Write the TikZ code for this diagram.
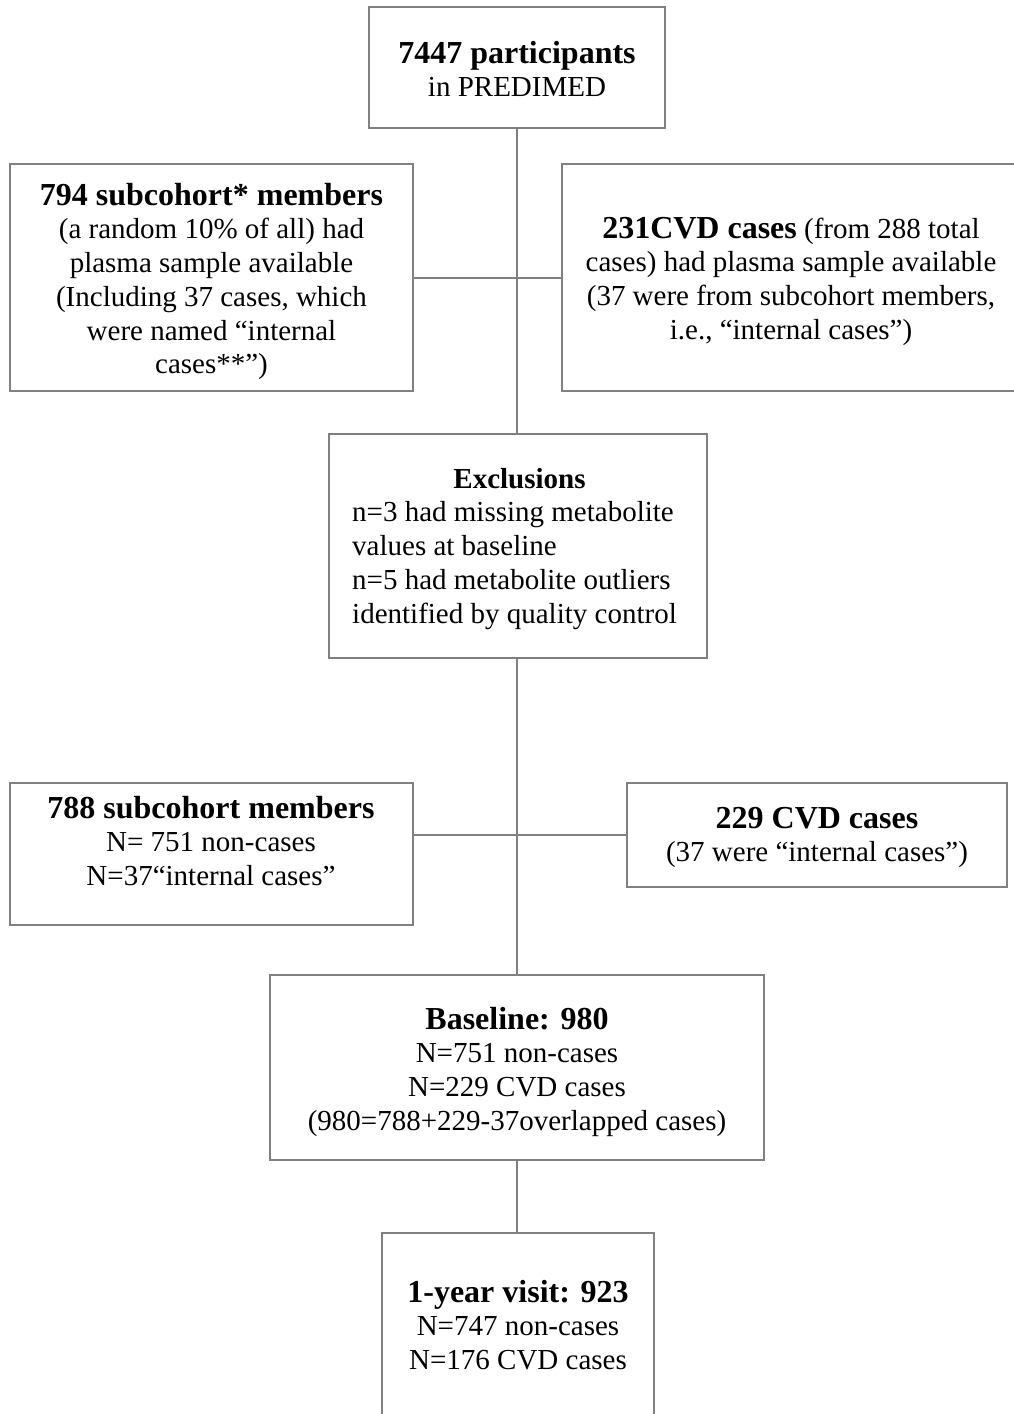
\documentclass[tikz,border=0pt]{standalone}
\usepackage{fontspec}
\setmainfont{Liberation Serif}
\definecolor{bd}{RGB}{128,128,128}
\newcommand\bigttl[1]{{\fontsize{32}{33.75}\selectfont\bfseries #1}}
\begin{document}
\begin{tikzpicture}[x=1pt,y=-1pt,
  box/.style={draw=bd, line width=2.2pt, rectangle, inner sep=0pt},
  txt/.style={inner sep=0pt, anchor=base, font=\fontsize{29}{33.75}\selectfont},
  conn/.style={draw=bd, line width=2pt}]
\useasboundingbox (0,0) rectangle (1013,1414);
% boxes
\node[box, minimum width=296pt, minimum height=121pt] (top)  at (517,67.5) {};
\node[box, minimum width=403pt, minimum height=227pt] (sub)  at (211.5,277.5) {};
\node[box, minimum width=460pt, minimum height=227pt] (cvd)  at (792,277.5) {};
\node[box, minimum width=378pt, minimum height=224pt] (excl) at (518,546) {};
\node[box, minimum width=403pt, minimum height=142pt] (subb) at (211.5,854) {};
\node[box, minimum width=380pt, minimum height=104pt] (cvdb) at (817,835) {};
\node[box, minimum width=494pt, minimum height=185pt] (base) at (517,1067.5) {};
\node[box, minimum width=272pt, minimum height=192pt] (year) at (518,1329) {};
% texts
\node[txt] (topT) at (517,63) {\begin{tabular}[t]{@{}c@{}}\bigttl{7447 participants}\\ in PREDIMED\end{tabular}};
\node[txt] (subT) at (211.5,205) {\begin{tabular}[t]{@{}c@{}}\bigttl{794 subcohort* members}\\ (a random 10\% of all) had\\ plasma sample available\\ (Including 37 cases, which\\ were named “internal\\ cases**”)\end{tabular}};
\node[txt] (cvdT) at (791,238) {\begin{tabular}[t]{@{}c@{}}\bigttl{231CVD cases} (from 288 total\\ cases) had plasma sample available\\ (37 were from subcohort members,\\ i.e., “internal cases”)\end{tabular}};
\node[txt, anchor=base west] (exclT) at (352,488) {\begin{tabular}[t]{@{}l@{}}\multicolumn{1}{@{}c@{}}{\hspace{10pt}\textbf{Exclusions}}\\ n=3 had missing metabolite\\ values at baseline\\ n=5 had metabolite outliers\\ identified by quality control\end{tabular}};
\node[txt] (subbT) at (211,818) {\begin{tabular}[t]{@{}c@{}}\bigttl{788 subcohort members}\\ N= 751 non-cases\\ N=37“internal cases”\end{tabular}};
\node[txt] (cvdbT) at (817,828) {\begin{tabular}[t]{@{}c@{}}\bigttl{229 CVD cases}\\ (37 were “internal cases”)\end{tabular}};
\node[txt] (baseT) at (517,1029) {\begin{tabular}[t]{@{}c@{}}\bigttl{Baseline: 980}\\ N=751 non-cases\\ N=229 CVD cases\\ (980=788+229-37overlapped cases)\end{tabular}};
\node[txt] (yearT) at (518,1302) {\begin{tabular}[t]{@{}c@{}}\bigttl{1-year visit: 923}\\ N=747 non-cases\\ N=176 CVD cases\end{tabular}};
% connectors
\draw[conn] (top.south) -- (top.south |- excl.north);
\draw[conn] (sub.east) -- (cvd.west);
\draw[conn] (base.north |- excl.south) -- (base.north);
\draw[conn] (cvdb.west) -- (cvdb.west -| subb.east);
\draw[conn] (base.south) -- (base.south |- year.north);
\end{tikzpicture}
\end{document}
